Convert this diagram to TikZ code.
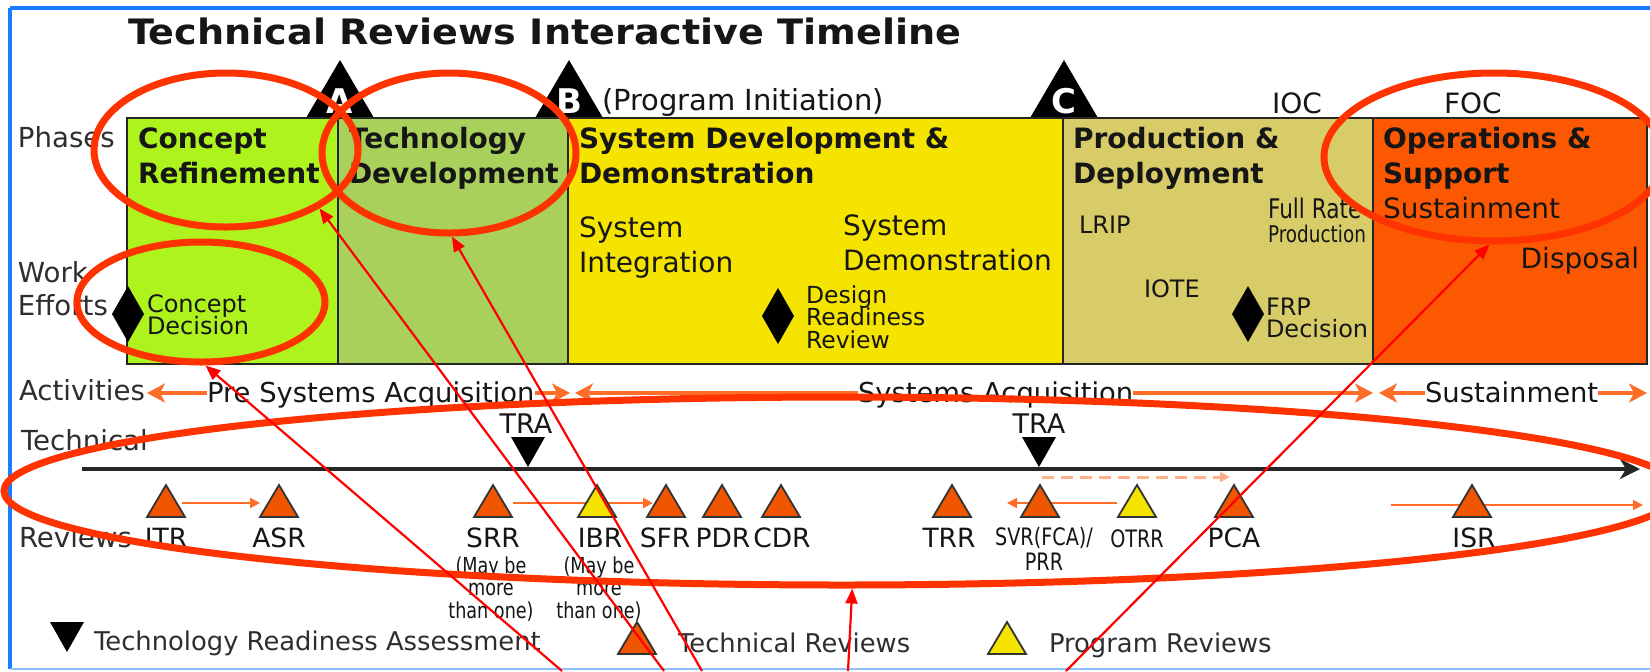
\documentclass[tikz,border=0pt]{standalone}
\usepackage{fontspec}
\setmainfont{DejaVu Sans}
\newfontfamily\titlefont[FakeStretch=1.09]{DejaVu Sans}
\newfontfamily\narrowfont[FakeStretch=0.8]{DejaVu Sans}
\usetikzlibrary{arrows.meta,shapes.geometric}

\definecolor{crgreen}{HTML}{AEF21E}
\definecolor{tdgreen}{HTML}{AAD05C}
\definecolor{sddyellow}{HTML}{F5E400}
\definecolor{pdkhaki}{HTML}{D8CC68}
\definecolor{osorange}{HTML}{FC5802}
\definecolor{revorange}{HTML}{F05500}
\definecolor{actorange}{HTML}{FF6E28}
\definecolor{dashorange}{HTML}{FFB08A}
\definecolor{ringred}{HTML}{FF3300}
\definecolor{pointred}{HTML}{FF0000}
\definecolor{frameblue}{HTML}{1A7DFF}
\definecolor{framebluelight}{HTML}{8CC0FF}
\definecolor{ink}{HTML}{161616}
\definecolor{greyink}{HTML}{2E2E2E}
\definecolor{boxline}{HTML}{262626}

% size helper: font size and baseline skip in pt
\newcommand\fsz[2]{\fontsize{#1}{#2}\selectfont}
% stacked lines on a fixed baseline grid; the first line gives the baseline
\newcommand\leftlines[2]{\vtop{\baselineskip=#1\relax\lineskiplimit=-\maxdimen\lineskip=0pt\halign{##\hfil\cr#2\crcr}}}
\newcommand\midlines[2]{\vtop{\baselineskip=#1\relax\lineskiplimit=-\maxdimen\lineskip=0pt\halign{\hfil##\hfil\cr#2\crcr}}}

\begin{document}
\begin{tikzpicture}[x=0.5pt,y=-0.5pt,
  txt/.style={inner sep=0pt,outer sep=0pt,anchor=base west,text=ink},
  ctxt/.style={inner sep=0pt,outer sep=0pt,anchor=base,text=ink},
  rtxt/.style={inner sep=0pt,outer sep=0pt,anchor=base east,text=ink},
  side/.style={txt,text=greyink,font=\fsz{13.8}{16.5}},
  phasebox/.style={draw=boxline,line width=1pt},
  ring/.style={ellipse,draw=ringred,line width=3.5pt,inner sep=0pt},
  pointer/.style={draw=pointred,line width=1.1pt,-{Triangle[length=7.5pt,width=6pt]}},
  actarrow/.style={draw=actorange,line width=1.6pt,-{Stealth[length=9pt,width=9.5pt,inset=2.5pt]}},
  revarrow/.style={draw=actorange,line width=1pt,-{Triangle[length=5pt,width=5pt]}},
  plandash/.style={draw=dashorange,line width=1.5pt,dash pattern=on 6pt off 3.5pt,-{Triangle[length=5pt,width=5pt]}},
  timeline/.style={draw=black!85,line width=1.8pt,-{Stealth[length=10pt,width=10pt,inset=3pt]}},
  techrev/.style={draw=black!80,fill=revorange,line width=0.9pt},
  progrev/.style={draw=black!80,fill=sddyellow,line width=0.9pt},
  tra/.style={fill=black},
  decision/.style={fill=black},
  tri/.pic={\path[pic actions] (-19,16) -- (0,-16) -- (19,16) -- cycle;},
  downtri/.pic={\path[pic actions] (-17,-15) -- (17,-15) -- (0,15) -- cycle;},
  gem/.pic={\path[pic actions] (0,-28) -- (16,0) -- (0,28) -- (-16,0) -- cycle;},
  milestone/.pic={\path[pic actions] (-34,58) -- (0,0) -- (34,58) -- cycle;}
]
\useasboundingbox (0,0) rectangle (1650,671);
\clip (0,0) rectangle (1650,671);
\fill[white] (0,0) rectangle (1650,671);

% page frame
\draw[frameblue,line width=1.75pt] (10,8) -- (1660,8);
\draw[frameblue,line width=1.75pt] (10,8) -- (10,669);
\draw[framebluelight,line width=1pt] (10,669) -- (1660,669);

% title
\node[txt] (title) at (128,44) {\titlefont\bfseries\fsz{17.5}{21}Technical Reviews Interactive Timeline};

% milestone triangles A, B, C
\pic[fill=black] at (340,60) {milestone};
\pic[fill=black] at (569,60) {milestone};
\pic[fill=black] at (1064,60) {milestone};
\node[ctxt,text=white] (msA) at (340,113) {\bfseries\fsz{17}{20}A};
\node[ctxt,text=white] (msB) at (569,113) {\bfseries\fsz{17}{20}B};
\node[ctxt,text=white] (msC) at (1064,113) {\bfseries\fsz{17}{20}C};
\node[txt] (proginit) at (602,110) {\fsz{14.5}{17}(Program Initiation)};
\node[txt] (ioc) at (1272,113) {\fsz{14}{17}IOC};
\node[txt] (foc) at (1444,113) {\fsz{14}{17}FOC};

% phase blocks
\fill[crgreen] (127,118) rectangle (338,364);
\fill[tdgreen] (338,118) rectangle (568,364);
\fill[sddyellow] (568,118) rectangle (1063,364);
\fill[pdkhaki] (1063,118) rectangle (1373,364);
\fill[osorange] (1373,118) rectangle (1647,364);
\draw[phasebox] (127,118) rectangle (1647,364);
\draw[phasebox] (338,118) -- (338,364);
\draw[phasebox] (568,118) -- (568,364);
\draw[phasebox] (1063,118) -- (1063,364);
\draw[phasebox] (1373,118) -- (1373,364);

% row labels
\node[side] (phases) at (18,147) {Phases};
\node[side] (work) at (18,282) {\leftlines{16.5pt}{Work\cr Efforts}};
\node[side] (activities) at (19,400) {Activities};
\node[side] (technical) at (21,450) {Technical};
\node[side] (reviews) at (19,547) {Reviews};

% phase names
\node[txt] (crname) at (138,148) {\bfseries\fsz{14}{17.5}\leftlines{17.5pt}{Concept\cr Refinement}};
\node[txt] (tdname) at (349,148) {\bfseries\fsz{14}{17.5}\leftlines{17.5pt}{Technology\cr Development}};
\node[txt] (sddname) at (579,148) {\bfseries\fsz{14}{17.5}\leftlines{17.5pt}{System Development \&\cr Demonstration}};
\node[txt] (pdname) at (1073,148) {\bfseries\fsz{14}{17.5}\leftlines{17.5pt}{Production \&\cr Deployment}};
\node[txt] (osname) at (1383,148) {\bfseries\fsz{14}{17.5}\leftlines{17.5pt}{Operations \&\cr Support}};

% work efforts
\node[txt] (sustwork) at (1383,218) {\fsz{14}{17.5}Sustainment};
\node[rtxt] (disposal) at (1639,268) {\fsz{14}{17.5}Disposal};
\node[txt] (sysint) at (579,237) {\fsz{14}{17.5}\leftlines{17.5pt}{System\cr Integration}};
\node[txt] (sysdemo) at (843,235) {\fsz{14}{17.5}\leftlines{17.5pt}{System\cr Demonstration}};
\node[txt] (lrip) at (1079,233) {\fsz{12}{14}LRIP};
\node[txt] (iote) at (1144,297) {\fsz{12}{14}IOTE};
\node[txt] (fullrate) at (1268,218) {\narrowfont\fsz{13.5}{15}Full Rate};
\node[txt] (fullprod) at (1268,242) {\narrowfont\fsz{11.5}{13}Production};

% decision points
\pic[decision] at (128,314) {gem};
\pic[decision] at (778,316) {gem};
\pic[decision] at (1248,314) {gem};
\node[txt] (cdtext) at (147,312) {\fsz{12}{11}\leftlines{11pt}{Concept\cr Decision}};
\node[txt] (drrtext) at (806,303) {\fsz{11.75}{11.25}\leftlines{11.25pt}{Design\cr Readiness\cr Review}};
\node[txt] (frptext) at (1266,315) {\fsz{12}{11}\leftlines{11pt}{FRP\cr Decision}};

% activities row
\node[txt] (pre) at (207,402) {\fsz{13.7}{16}Pre Systems Acquisition};
\node[txt] (sysacq) at (858,402) {\fsz{13.7}{16}Systems Acquisition};
\node[txt] (sust) at (1425,402) {\fsz{13.7}{16}Sustainment};
\coordinate (preL) at (147,393);
\coordinate (preR) at (570,393);
\coordinate (acqL) at (575,393);
\coordinate (acqR) at (1373,393);
\coordinate (sustL) at (1379,393);
\coordinate (sustR) at (1647,393);
\draw[actarrow] (pre.west |- preL) -- (preL);
\draw[actarrow] (pre.east |- preR) -- (preR);
\draw[actarrow] (sysacq.west |- acqL) -- (acqL);
\draw[actarrow] (sysacq.east |- acqR) -- (acqR);
\draw[actarrow] (sust.west |- sustL) -- (sustL);
\draw[actarrow] (sust.east |- sustR) -- (sustR);

% technical timeline
\coordinate (tlstart) at (82,469);
\coordinate (tlend) at (1640,469);
\draw[timeline] (tlstart) -- (tlend);
\node[ctxt] (tra1) at (526,433) {\fsz{13.5}{16}TRA};
\node[ctxt] (tra2) at (1039,433) {\fsz{13.5}{16}TRA};
\pic[tra] at (528,452) {downtri};
\pic[tra] at (1039,452) {downtri};

% review sequencing arrows
\coordinate (itrR) at (182,503);
\coordinate (asrL) at (260,503);
\coordinate (srrR) at (513,503);
\coordinate (sfrL) at (653,503);
\coordinate (otrrL) at (1117,503);
\coordinate (svrL) at (1007,503);
\coordinate (dashL) at (1042,477);
\coordinate (dashR) at (1230,477);
\coordinate (isrL) at (1391,505);
\coordinate (isrR) at (1643,505);
\draw[revarrow] (itrR) -- (asrL);
\draw[revarrow] (srrR) -- (sfrL);
\draw[revarrow] (otrrL) -- (svrL);
\draw[plandash] (dashL) -- (dashR);
\draw[revarrow] (isrL) -- (isrR);

% review markers
\pic[techrev] at (166,501) {tri};
\pic[techrev] at (279,501) {tri};
\pic[techrev] at (493,501) {tri};
\pic[progrev] at (597,501) {tri};
\pic[techrev] at (666,501) {tri};
\pic[techrev] at (722,501) {tri};
\pic[techrev] at (781,501) {tri};
\pic[techrev] at (952,501) {tri};
\pic[techrev] at (1040,501) {tri};
\pic[progrev] at (1137,501) {tri};
\pic[techrev] at (1234,501) {tri};
\pic[techrev] at (1472,501) {tri};

% review names
\node[ctxt] (itr) at (166,547) {\fsz{13.25}{16}ITR};
\node[ctxt] (asr) at (279,547) {\fsz{13.25}{16}ASR};
\node[ctxt] (srr) at (493,547) {\fsz{13.25}{16}SRR};
\node[ctxt] (ibr) at (600,547) {\fsz{13.25}{16}IBR};
\node[ctxt] (sfr) at (665,547) {\fsz{13.25}{16}SFR};
\node[ctxt] (pdr) at (723,547) {\fsz{13.25}{16}PDR};
\node[ctxt] (cdr) at (782,547) {\fsz{13.25}{16}CDR};
\node[ctxt] (trr) at (949,547) {\fsz{13.25}{16}TRR};
\node[ctxt] (svr) at (1044,545) {\narrowfont\fsz{12}{12.5}\midlines{12.5pt}{SVR(FCA)/\cr PRR}};
\node[ctxt] (otrr) at (1137,547) {\narrowfont\fsz{12}{14}OTRR};
\node[ctxt] (pca) at (1234,547) {\fsz{13.25}{16}PCA};
\node[ctxt] (isr) at (1474,547) {\fsz{13.25}{16}ISR};
\node[ctxt] (srrnote) at (491,573) {\narrowfont\fsz{11}{11.25}\midlines{11.25pt}{(May be\cr more\cr than one)}};
\node[ctxt] (ibrnote) at (599,573) {\narrowfont\fsz{11}{11.25}\midlines{11.25pt}{(May be\cr more\cr than one)}};

% legend
\pic[tra] at (67,637) {downtri};
\node[txt,text=greyink] (legtra) at (94,650) {\fsz{12.9}{15}Technology Readiness Assessment};
\pic[techrev] at (637,638) {tri};
\node[txt,text=greyink] (legtech) at (678,652) {\fsz{12.9}{15}Technical Reviews};
\pic[progrev] at (1007,638) {tri};
\node[txt,text=greyink] (legprog) at (1049,652) {\fsz{12.9}{15}Program Reviews};

% highlight rings
\node[ring,minimum width=132pt,minimum height=77pt] (ringcr) at (226,150) {};
\node[ring,minimum width=127pt,minimum height=80pt] (ringtd) at (449,153) {};
\node[ring,minimum width=124pt,minimum height=60pt] (ringcd) at (201,302) {};
\node[ring,minimum width=170pt,minimum height=84pt] (ringos) at (1494,157) {};
\node[ring,minimum width=838pt,minimum height=94pt] (ringrev) at (842,491) {};

% pointers into the rings
\coordinate (fromcd) at (562,671);
\coordinate (fromcr) at (664,671);
\coordinate (fromtd) at (702,671);
\coordinate (fromrev) at (848,671);
\coordinate (fromos) at (1066,671);
\draw[pointer] (fromcd) -- (ringcd.-86);
\draw[pointer] (fromcr) -- (ringcr.-32);
\draw[pointer] (fromtd) -- (ringtd.-88);
\draw[pointer] (fromrev) -- (ringrev.-84);
\draw[pointer] (fromos) -- (ringos.-93);
\end{tikzpicture}
\end{document}
